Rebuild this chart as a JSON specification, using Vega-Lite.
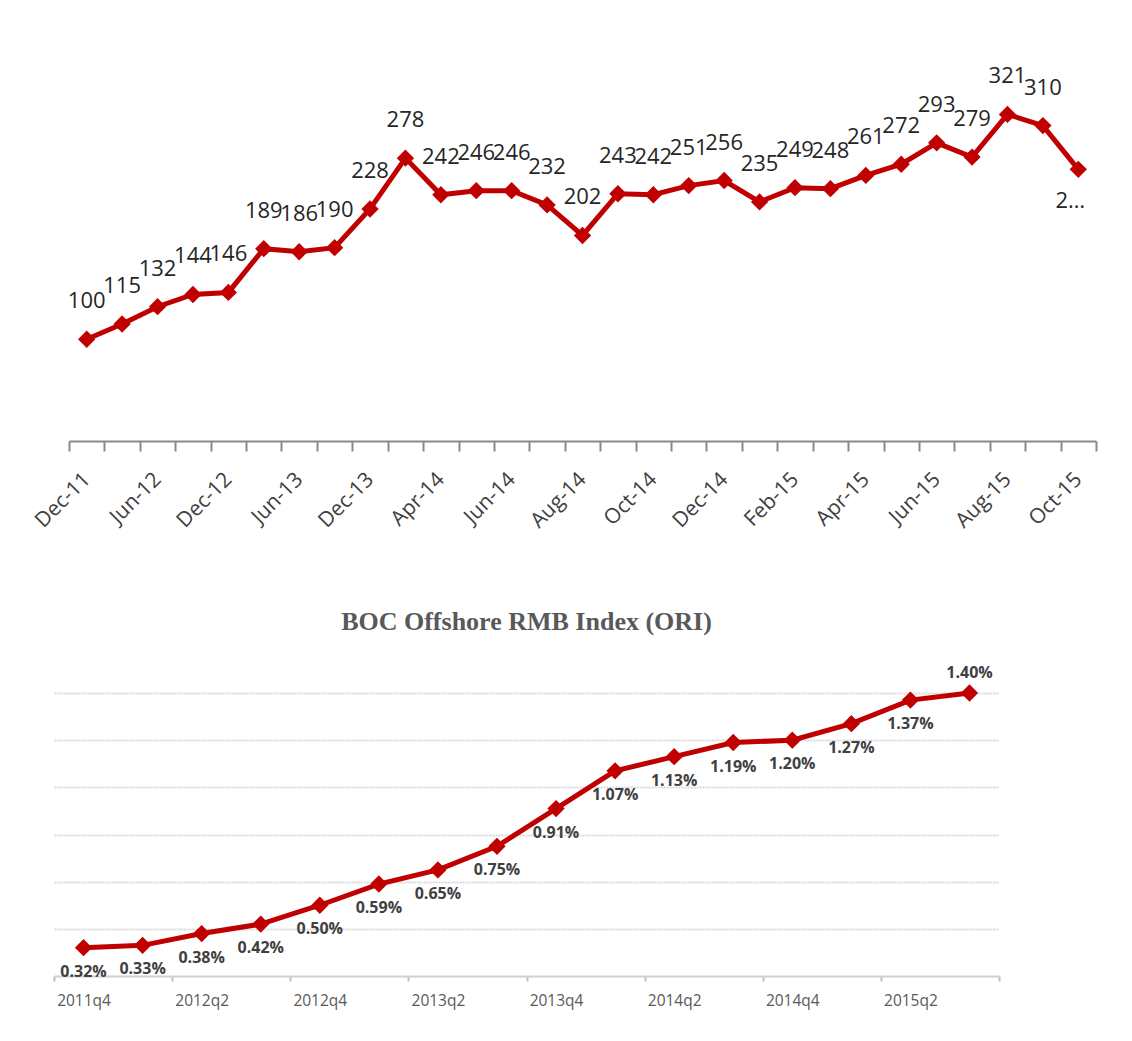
{
  "$schema": "https://vega.github.io/schema/vega-lite/v6.json",
  "background": "white",
  "padding": {"left": 30, "top": 34, "right": 5, "bottom": 5},
  "spacing": 77,
  "config": {"view": {"stroke": null}, "font": "Open Sans"},
  "vconcat": [
    {
      "width": 1042,
      "height": 407,
      "data": {
        "values": [
          {"date": "Dec-11", "v": 100, "label": "100"},
          {"date": "Mar-12", "v": 115, "label": "115"},
          {"date": "Jun-12", "v": 132, "label": "132"},
          {"date": "Sep-12", "v": 144, "label": "144"},
          {"date": "Dec-12", "v": 146, "label": "146"},
          {"date": "Mar-13", "v": 189, "label": "189"},
          {"date": "Jun-13", "v": 186, "label": "186"},
          {"date": "Sep-13", "v": 190, "label": "190"},
          {"date": "Dec-13", "v": 228, "label": "228"},
          {"date": "Mar-14", "v": 278, "label": "278"},
          {"date": "Apr-14", "v": 242, "label": "242"},
          {"date": "May-14", "v": 246, "label": "246"},
          {"date": "Jun-14", "v": 246, "label": "246"},
          {"date": "Jul-14", "v": 232, "label": "232"},
          {"date": "Aug-14", "v": 202, "label": "202"},
          {"date": "Sep-14", "v": 243, "label": "243"},
          {"date": "Oct-14", "v": 242, "label": "242"},
          {"date": "Nov-14", "v": 251, "label": "251"},
          {"date": "Dec-14", "v": 256, "label": "256"},
          {"date": "Jan-15", "v": 235, "label": "235"},
          {"date": "Feb-15", "v": 249, "label": "249"},
          {"date": "Mar-15", "v": 248, "label": "248"},
          {"date": "Apr-15", "v": 261, "label": "261"},
          {"date": "May-15", "v": 272, "label": "272"},
          {"date": "Jun-15", "v": 293, "label": "293"},
          {"date": "Jul-15", "v": 279, "label": "279"},
          {"date": "Aug-15", "v": 321, "label": "321"},
          {"date": "Sep-15", "v": 310, "label": "310"},
          {"date": "Oct-15", "v": 267, "label": "2…"}
        ]
      },
      "encoding": {
        "x": {
          "field": "date",
          "type": "ordinal",
          "sort": null,
          "scale": {"type": "band", "paddingInner": 0, "paddingOuter": 0, "range": [15, 1042]},
          "axis": {
            "title": null,
            "tickBand": "extent",
            "labelAngle": -45,
            "labelAlign": "right",
            "labelBaseline": "middle",
            "labelFontSize": 21,
            "labelColor": "#404040",
            "labelPadding": 25,
            "labelOverlap": false,
            "tickSize": 10,
            "tickColor": "#898989",
            "tickWidth": 2,
            "domainColor": "#898989",
            "domainWidth": 2,
            "labelExpr": "indexof(['Dec-11','Jun-12','Dec-12','Jun-13','Dec-13','Apr-14','Jun-14','Aug-14','Oct-14','Dec-14','Feb-15','Apr-15','Jun-15','Aug-15','Oct-15'], datum.value) >= 0 ? datum.value : ''"
          }
        },
        "y": {"field": "v", "type": "quantitative", "scale": {"domain": [0, 400]}, "axis": null}
      },
      "layer": [
        {"mark": {"type": "line", "color": "#c00000", "strokeWidth": 5}},
        {"mark": {"type": "point", "shape": "diamond", "filled": true, "size": 300, "color": "#c00000", "opacity": 1}},
        {
          "transform": [{"filter": "datum.date != 'Oct-15'"}],
          "mark": {"type": "text", "dy": -38, "fontSize": 22, "color": "#262626"},
          "encoding": {"text": {"field": "label"}}
        },
        {
          "transform": [{"filter": "datum.date == 'Oct-15'"}],
          "mark": {"type": "text", "dy": 32, "dx": -8, "fontSize": 22, "color": "#262626"},
          "encoding": {"text": {"field": "label"}}
        }
      ]
    },
    {
      "width": 945,
      "height": 283,
      "title": {
        "text": "BOC Offshore RMB Index (ORI)",
        "font": "Liberation Serif",
        "fontSize": 26,
        "fontWeight": "bold",
        "color": "#595959",
        "anchor": "middle",
        "frame": "group",
        "offset": 30
      },
      "data": {
        "values": [
          {"q": "2011q4", "v": 0.0032},
          {"q": "2012q1", "v": 0.0033},
          {"q": "2012q2", "v": 0.0038},
          {"q": "2012q3", "v": 0.0042},
          {"q": "2012q4", "v": 0.0050},
          {"q": "2013q1", "v": 0.0059},
          {"q": "2013q2", "v": 0.0065},
          {"q": "2013q3", "v": 0.0075},
          {"q": "2013q4", "v": 0.0091},
          {"q": "2014q1", "v": 0.0107},
          {"q": "2014q2", "v": 0.0113},
          {"q": "2014q3", "v": 0.0119},
          {"q": "2014q4", "v": 0.0120},
          {"q": "2015q1", "v": 0.0127},
          {"q": "2015q2", "v": 0.0137},
          {"q": "2015q3", "v": 0.0140}
        ]
      },
      "encoding": {
        "x": {
          "field": "q",
          "type": "ordinal",
          "sort": null,
          "scale": {"type": "band", "paddingInner": 0, "paddingOuter": 0},
          "axis": {
            "title": null,
            "tickBand": "extent",
            "tickSize": 5,
            "tickColor": "#bfbfbf",
            "tickWidth": 2,
            "tickOpacity": {
              "condition": {"test": "datum.extra || indexof(['2012q1','2012q3','2013q1','2013q3','2014q1','2014q3','2015q1','2015q3'], datum.value) >= 0", "value": 1},
              "value": 0
            },
            "domainColor": "#d0d0d0",
            "domainWidth": 2,
            "labelAngle": 0,
            "labelFontSize": 15.5,
            "labelColor": "#595959",
            "labelPadding": 12,
            "labelOverlap": false,
            "labelExpr": "indexof(['2011q4','2012q2','2012q4','2013q2','2013q4','2014q2','2014q4','2015q2'], datum.value) >= 0 ? datum.value : ''"
          }
        },
        "y": {
          "field": "v",
          "type": "quantitative",
          "scale": {"domain": [0.002, 0.014]},
          "axis": {
            "title": null,
            "values": [0.004, 0.006, 0.008, 0.01, 0.012, 0.014],
            "labels": false,
            "ticks": false,
            "domain": false,
            "grid": true,
            "gridColor": "#d9d9d9",
            "gridWidth": 2,
            "gridDash": [2, 1]
          }
        }
      },
      "layer": [
        {"mark": {"type": "line", "color": "#c00000", "strokeWidth": 5}},
        {"mark": {"type": "point", "shape": "diamond", "filled": true, "size": 300, "color": "#c00000", "opacity": 1}},
        {
          "transform": [{"filter": "datum.q != '2015q3'"}],
          "mark": {"type": "text", "dy": 24, "fontSize": 16, "fontWeight": "bold", "color": "#404040"},
          "encoding": {"text": {"field": "v", "type": "quantitative", "format": ".2%"}}
        },
        {
          "transform": [{"filter": "datum.q == '2015q3'"}],
          "mark": {"type": "text", "dy": -20, "fontSize": 16, "fontWeight": "bold", "color": "#404040"},
          "encoding": {"text": {"field": "v", "type": "quantitative", "format": ".2%"}}
        }
      ]
    }
  ]
}
